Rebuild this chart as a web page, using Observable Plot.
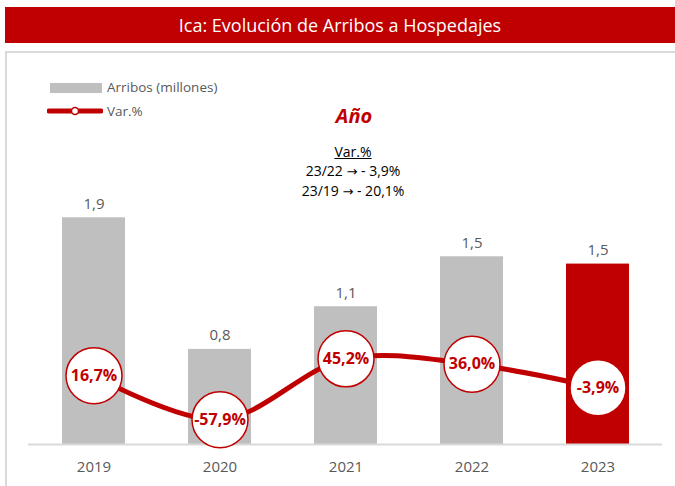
<!DOCTYPE html>
<html>
<head>
<meta charset="utf-8">
<script src="https://cdn.jsdelivr.net/npm/d3@7"></script>
<script src="https://cdn.jsdelivr.net/npm/@observablehq/plot@0.6"></script>
<style>
  html, body { margin: 0; padding: 0; background: #fff; }
  body { width: 675px; height: 486px; position: relative; overflow: hidden; font-family: "Open Sans", "Noto Sans", sans-serif; }
  #banner { position: absolute; left: 5px; top: 7px; width: 670px; height: 36px; background: #c00000; color: #fff; font-size: 18px; line-height: 36px; text-align: center; }
  #panel { position: absolute; left: 5px; top: 51px; width: 680px; height: 450px; border-top: 2px solid #d9d9d9; border-left: 2px solid #d9d9d9; box-sizing: border-box; }
  #chart { position: absolute; left: 0; top: 0; }
  .leg { position: absolute; font-size: 13.5px; color: #595959; white-space: nowrap; }
  #ano { position: absolute; left: 304px; top: 102px; width: 100px; text-align: center; color: #c00000; font-weight: bold; font-style: italic; font-size: 20px; }
  #notes { position: absolute; left: 253px; top: 142px; width: 200px; text-align: center; font-size: 14px; line-height: 19px; color: #000; }
  .arr { font-family: "DejaVu Sans", sans-serif; font-size: 13px; }
</style>
</head>
<body>
<div id="panel"></div>
<div id="chart"></div>
<div id="banner">Ica: Evolución de Arribos a Hospedajes</div>
<div class="leg" style="left:50px;top:78px;"><span style="display:inline-block;width:52px;height:10px;background:#bfbfbf;vertical-align:-1px;margin-right:5px;"></span>Arribos (millones)</div>
<div class="leg" style="left:47px;top:102px;"><svg width="56" height="12" style="vertical-align:-1px;margin-right:4px;"><line x1="2" y1="6" x2="54" y2="6" stroke="#c00000" stroke-width="5" stroke-linecap="round"/><circle cx="28" cy="6" r="3.5" fill="#fff" stroke="#c00000" stroke-width="1.5"/></svg>Var.%</div>
<div id="ano">Año</div>
<div id="notes"><span style="text-decoration:underline;">Var.%</span><br>23/22 <span class="arr">→</span> - 3,9%<br>23/19 <span class="arr">→</span> - 20,1%</div>
<script>
const years = ["2019", "2020", "2021", "2022", "2023"];
const arribos = [1.86, 0.78, 1.13, 1.54, 1.48];
const varPct = [16.7, -57.9, 45.2, 36.0, -3.9];
const highlightYear = "2023";

const data = years.map((y, i) => ({year: y, arribos: arribos[i], varPct: varPct[i]}));

const comma = (v, d) => v.toFixed(d).replace(".", ",");

// secondary axis (Var.%) mapped onto the primary (millions) axis, like Excel's secondary axis
const yMax = 3.15;
const secMin = -100, secMax = 551;
const toPrimary = v => (v - secMin) / (secMax - secMin) * yMax;

const chart = Plot.plot({
  width: 675,
  height: 486,
  marginLeft: 28,
  marginRight: 13,
  marginTop: 60,
  marginBottom: 42,
  style: {fontFamily: "'Open Sans', 'Noto Sans', sans-serif", background: "transparent"},
  x: {type: "band", domain: years, paddingInner: 0.5, paddingOuter: 0.25, label: null},
  y: {domain: [0, yMax], axis: null},
  marks: [
    Plot.barY(data, {x: "year", y: "arribos", fill: d => d.year === highlightYear ? "#c00000" : "#bfbfbf"}),
    Plot.ruleY([0], {stroke: "#d9d9d9", strokeWidth: 2}),
    Plot.text(data, {x: "year", y: "arribos", text: d => comma(d.arribos, 1), dy: -14, fontSize: 15, fill: "#595959"}),
    Plot.line(data, {x: "year", y: d => toPrimary(d.varPct), stroke: "#c00000", strokeWidth: 5, curve: "catmull-rom"}),
    Plot.dot(data, {x: "year", y: d => toPrimary(d.varPct), r: 28, fill: "white", stroke: "#c00000", strokeWidth: 1.5}),
    Plot.text(data, {x: "year", y: d => toPrimary(d.varPct), text: d => comma(d.varPct, 1) + "%", fontSize: 16, fontWeight: "bold", fill: "#c00000"}),
    Plot.axisX({tickSize: 0, tickPadding: 17, fontSize: 15, color: "#595959", label: null})
  ]
});
document.getElementById("chart").appendChild(chart);
</script>
</body>
</html>
